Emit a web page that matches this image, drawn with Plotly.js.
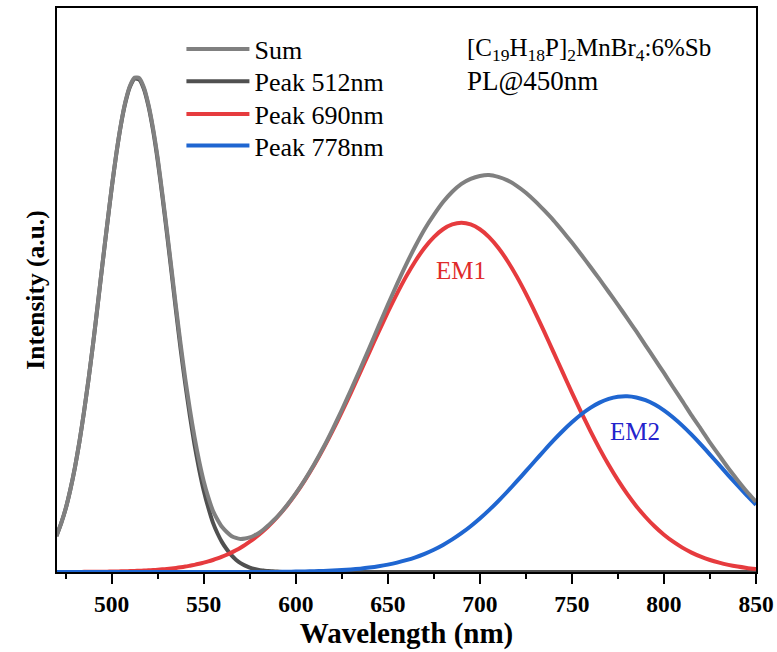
<!DOCTYPE html>
<html>
<head>
<meta charset="utf-8">
<script src="https://cdn.plot.ly/plotly-3.0.1.min.js"></script>
<style>
html,body{margin:0;padding:0;background:#fff;}
#chart{width:777px;height:652px;}
#chart .legendtext, #chart .xtick text, #chart .annotation-text, #chart .xtitle, #chart .ytitle {font-family:'Liberation Serif','Times New Roman',serif !important;}
</style>
</head>
<body>
<div id="chart"></div>
<script>
const wavelength = [470,472.5,475,477.5,480,482.5,485,487.5,490,492.5,495,497.5,500,502.5,505,507.5,510,512.5,515,517.5,520,522.5,525,527.5,530,532.5,535,537.5,540,542.5,545,547.5,550,552.5,555,557.5,560,562.5,565,567.5,570,572.5,575,577.5,580,582.5,585,587.5,590,595,600,605,610,615,620,625,630,635,640,645,650,655,660,665,670,675,680,685,690,695,700,705,710,715,720,725,730,735,740,745,750,755,760,765,770,775,780,785,790,795,800,805,810,815,820,825,830,835,840,845,850];

const sumValues = [0.073,0.098,0.128,0.166,0.211,0.264,0.325,0.392,0.465,0.544,0.624,0.702,0.778,0.847,0.906,0.953,0.985,1.001,1.000,0.981,0.946,0.898,0.838,0.767,0.692,0.614,0.535,0.460,0.391,0.329,0.273,0.225,0.184,0.151,0.124,0.106,0.091,0.081,0.073,0.069,0.067,0.068,0.070,0.074,0.079,0.086,0.094,0.103,0.112,0.134,0.159,0.187,0.218,0.252,0.289,0.328,0.369,0.411,0.454,0.498,0.541,0.583,0.623,0.660,0.694,0.723,0.749,0.770,0.786,0.796,0.802,0.804,0.800,0.793,0.782,0.768,0.751,0.732,0.712,0.690,0.667,0.643,0.618,0.593,0.567,0.541,0.514,0.487,0.459,0.431,0.403,0.374,0.346,0.317,0.290,0.262,0.236,0.210,0.186,0.163,0.142];

const peak512 = [0.073,0.098,0.128,0.166,0.211,0.264,0.325,0.392,0.465,0.543,0.623,0.701,0.777,0.846,0.905,0.951,0.983,0.999,0.997,0.978,0.943,0.894,0.833,0.762,0.686,0.607,0.527,0.450,0.380,0.316,0.258,0.208,0.165,0.130,0.100,0.078,0.060,0.046,0.034,0.025,0.018,0.013,0.009,0.006,0.004,0.003,0.002,0.0015,0.001,0,0,0,0,0,0,0,0,0,0,0,0,0,0,0,0,0,0,0,0,0,0,0,0,0,0,0,0,0,0,0,0,0,0,0,0,0,0,0,0,0,0,0,0,0,0,0,0,0,0,0,0];

const peak690 = [0.0001,0.0001,0.0001,0.0001,0.0002,0.0002,0.0003,0.0004,0.0004,0.0005,0.0006,0.0007,0.0009,0.0011,0.0013,0.0015,0.0018,0.0021,0.0025,0.0029,0.0034,0.0039,0.0046,0.0054,0.0062,0.0072,0.0083,0.0096,0.0110,0.0127,0.0145,0.0166,0.0189,0.0214,0.0243,0.0275,0.0311,0.0350,0.0393,0.0441,0.0493,0.0550,0.0613,0.0681,0.0754,0.0834,0.0920,0.1013,0.1113,0.1333,0.1581,0.1859,0.2165,0.2499,0.2857,0.3237,0.3633,0.4041,0.4453,0.4862,0.5259,0.5637,0.5986,0.6298,0.6566,0.6782,0.6940,0.7037,0.7070,0.7037,0.6940,0.6782,0.6566,0.6298,0.5986,0.5637,0.5259,0.4862,0.4453,0.4041,0.3633,0.3237,0.2857,0.2499,0.2165,0.1859,0.1581,0.1333,0.1113,0.0920,0.0754,0.0613,0.0493,0.0393,0.0311,0.0243,0.0189,0.0145,0.0110,0.0083,0.0062];

const peak778 = [0,0,0,0,0,0,0,0,0,0,0,0,0,0,0,0,0,0,0,0,0,0,0,0,0,0,0,0,0,0,0,0,0,0,0,0,0,0,0,0,0,0,0,0,0,0,0,0,0,0.0006,0.0008,0.0011,0.0015,0.0021,0.0029,0.0039,0.0052,0.0068,0.0089,0.0116,0.0149,0.0189,0.0239,0.0298,0.0369,0.0452,0.0549,0.0660,0.0786,0.0927,0.1083,0.1253,0.1436,0.1630,0.1833,0.2041,0.2252,0.2461,0.2664,0.2855,0.3032,0.3190,0.3323,0.3429,0.3506,0.3549,0.3559,0.3535,0.3479,0.3390,0.3273,0.3129,0.2964,0.2780,0.2584,0.2378,0.2168,0.1957,0.1751,0.1551,0.1361];

const seriesNames = ['Sum','Peak 512nm','Peak 690nm','Peak 778nm'];
const seriesColors = ['#808080','#505050','#e63b3e','#1f66d1'];
const xTickVals = [500,550,600,650,700,750,800,850];

const SERIF = 'Liberation Serif';
const legendIds = ['legend', 'legend2', 'legend3', 'legend4'];
const legendTops = [0.969, 0.9117, 0.8537, 0.7975];

function mk(y, i) {
  return {
    x: wavelength, y: y, type: 'scatter', mode: 'lines',
    name: seriesNames[i], legend: legendIds[i],
    line: {color: seriesColors[i], width: 4, shape: 'spline', smoothing: 0.6}
  };
}

const traces = [
  mk(peak512, 1),
  mk(peak690, 2),
  mk(peak778, 3),
  mk(sumValues, 0)
];

const layout = {
  width: 777, height: 652,
  margin: {l: 57, r: 21, t: 8, b: 80},
  paper_bgcolor: '#ffffff', plot_bgcolor: '#ffffff',
  font: {family: SERIF, color: '#000'},
  showlegend: true,
  xaxis: {
    range: [470.3, 850], showgrid: false, zeroline: false,
    showline: true, mirror: true, linecolor: '#000', linewidth: 2,
    ticks: 'outside', ticklen: 10, tickwidth: 2, tickcolor: '#000',
    tickvals: xTickVals, ticktext: xTickVals.map(v => '<b>' + v + '</b>'),
    minor: {dtick: 25, tick0: 475, ticks: 'outside', ticklen: 5, tickwidth: 2, tickcolor: '#000', showgrid: false},
    tickfont: {family: SERIF, size: 23.5, color: '#000'},
    title: {text: '<b>Wavelength (nm)</b>', font: {family: SERIF, size: 29, color: '#000'}, standoff: 6}
  },
  yaxis: {
    range: [0, 1.142], showgrid: false, zeroline: false,
    showline: true, mirror: true, linecolor: '#000', linewidth: 2,
    ticks: '', showticklabels: false,
    title: {text: '<b>Intensity (a.u.)</b>', font: {family: SERIF, size: 25.5, color: '#000'}, standoff: 3}
  },
  annotations: [
    {xref: 'paper', yref: 'paper', x: 0.584, y: 0.926, xanchor: 'left', yanchor: 'middle', showarrow: false,
     text: '[C<sub>19</sub>H<sub>18</sub>P]<sub>2</sub>MnBr<sub>4</sub>:6%Sb', font: {family: SERIF, size: 25, color: '#000'}},
    {xref: 'paper', yref: 'paper', x: 0.584, y: 0.870, xanchor: 'left', yanchor: 'middle', showarrow: false,
     text: 'PL@450nm', font: {family: SERIF, size: 27, color: '#000'}},
    {xref: 'x', yref: 'y', x: 690, y: 0.611, showarrow: false,
     text: 'EM1', font: {family: SERIF, size: 25, color: '#e02a2a'}},
    {xref: 'x', yref: 'y', x: 784.4, y: 0.285, showarrow: false,
     text: 'EM2', font: {family: SERIF, size: 25, color: '#2424cc'}}
  ]
};

legendIds.forEach((id, k) => {
  layout[id] = {
    x: 0.178, y: legendTops[k], xanchor: 'left', yanchor: 'top',
    bgcolor: 'rgba(0,0,0,0)', borderwidth: 0,
    font: {family: SERIF, size: 26, color: '#000'},
    itemwidth: 63
  };
});

Plotly.newPlot('chart', traces, layout, {displayModeBar: false, staticPlot: true});
</script>
</body>
</html>
